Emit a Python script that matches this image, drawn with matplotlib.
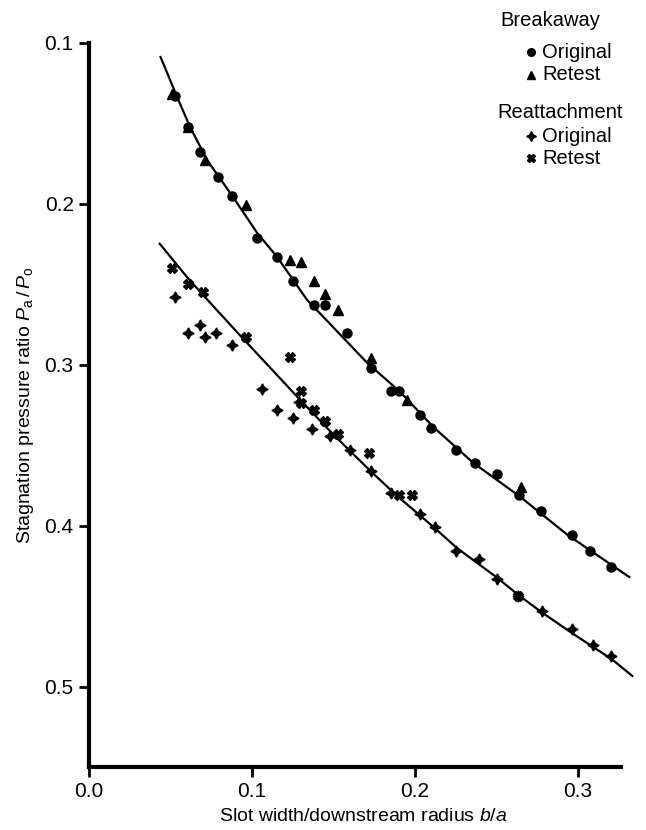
import numpy as np
import matplotlib
matplotlib.use("Agg")
import matplotlib.pyplot as plt

plt.rcParams['font.family'] = ['Liberation Sans', 'DejaVu Sans']
plt.rcParams['mathtext.fontset'] = 'custom'
plt.rcParams['mathtext.rm'] = 'Liberation Sans'
plt.rcParams['mathtext.it'] = 'Liberation Sans:italic'

# breakaway, original test (circles)
ba_orig_x = [0.053, 0.061, 0.068, 0.079, 0.088, 0.103, 0.115, 0.125, 0.138, 0.145,
             0.158, 0.173, 0.185, 0.190, 0.203, 0.210, 0.225, 0.237, 0.250, 0.264,
             0.277, 0.296, 0.307, 0.320]
ba_orig_y = [0.133, 0.152, 0.168, 0.183, 0.195, 0.221, 0.233, 0.248, 0.263, 0.263,
             0.280, 0.302, 0.316, 0.316, 0.331, 0.339, 0.353, 0.361, 0.368, 0.381,
             0.391, 0.406, 0.416, 0.426]
# breakaway, retest (triangles)
ba_re_x = [0.051, 0.061, 0.071, 0.096, 0.123, 0.130, 0.138, 0.145, 0.153, 0.173,
           0.195, 0.265]
ba_re_y = [0.132, 0.152, 0.173, 0.201, 0.235, 0.236, 0.248, 0.256, 0.266, 0.296,
           0.322, 0.376]
# reattachment, original test
ra_orig_x = [0.053, 0.061, 0.068, 0.071, 0.078, 0.088, 0.106, 0.115, 0.125, 0.129,
             0.137, 0.148, 0.160, 0.173, 0.185, 0.203, 0.212, 0.225, 0.239, 0.250,
             0.263, 0.278, 0.296, 0.309, 0.320]
ra_orig_y = [0.258, 0.280, 0.275, 0.283, 0.280, 0.288, 0.315, 0.328, 0.333, 0.323,
             0.340, 0.344, 0.353, 0.366, 0.380, 0.393, 0.401, 0.416, 0.421, 0.433,
             0.444, 0.453, 0.464, 0.474, 0.481]
# reattachment, retest
ra_re_x = [0.051, 0.061, 0.070, 0.096, 0.123, 0.130, 0.130, 0.138, 0.145, 0.153,
           0.172, 0.190, 0.198, 0.263]
ra_re_y = [0.240, 0.250, 0.255, 0.283, 0.295, 0.316, 0.324, 0.328, 0.335, 0.343,
           0.355, 0.381, 0.381, 0.444]

# fitted curves
upper_fit_x = [0.0436, 0.0490, 0.0540, 0.0620, 0.0724, 0.0883, 0.1031, 0.1153, 0.1337,
               0.1706, 0.1908, 0.2110, 0.2356, 0.2644, 0.2933, 0.3319]
upper_fit_y = [0.1081, 0.1212, 0.1335, 0.1522, 0.1727, 0.1957, 0.2180, 0.2329, 0.2596,
               0.2988, 0.3168, 0.3385, 0.3609, 0.3820, 0.4056, 0.4323]
lower_fit_x = [0.0429, 0.0601, 0.0699, 0.0945, 0.1294, 0.1497, 0.1724, 0.1890,
               0.2110, 0.2258, 0.2503, 0.2632, 0.2779, 0.2951, 0.3086, 0.3209, 0.3337]
lower_fit_y = [0.2242, 0.2455, 0.2566, 0.2838, 0.3217, 0.3432, 0.3658, 0.3815,
               0.4006, 0.4140, 0.4323, 0.4430, 0.4540, 0.4660, 0.4750, 0.4832, 0.4938]

xticks = [0.0, 0.1, 0.2, 0.3]
yticks = [0.1, 0.2, 0.3, 0.4, 0.5]

fig = plt.figure(figsize=(6.46, 8.30), dpi=100)
ax = fig.add_axes([0.1378, 0.0759, 0.848, 0.8723])

star4 = (4, 1, 0)
ax.plot(upper_fit_x, upper_fit_y, color='black', lw=1.6, solid_capstyle='butt')
ax.plot(lower_fit_x, lower_fit_y, color='black', lw=1.6, solid_capstyle='butt')
ax.plot(ba_orig_x, ba_orig_y, 'o', color='black', ms=6.5, ls='none')
ax.plot(ba_re_x, ba_re_y, '^', color='black', ms=7, ls='none')
ax.plot(ra_orig_x, ra_orig_y, marker=star4, color='black', ms=8, ls='none')
ax.plot(ra_re_x, ra_re_y, 'X', color='black', ms=6.5, ls='none')

ax.set_xlim(0, 0.336)
ax.set_ylim(0.55, 0.1)
ax.set_xticks(xticks)
ax.set_xticklabels(['%.1f' % v for v in xticks])
ax.set_yticks(yticks)
ax.set_yticklabels(['%.1f' % v for v in yticks])
ax.spines['top'].set_visible(False)
ax.spines['right'].set_visible(False)
ax.spines['left'].set_linewidth(3)
ax.spines['bottom'].set_linewidth(3)
ax.spines['bottom'].set_bounds(0, 0.326)
ax.tick_params(axis='both', direction='out', length=7, width=2, labelsize=15,
               pad=4)

ax.set_xlabel(r'Slot width/downstream radius $b/a$', fontsize=14, labelpad=5)
ax.set_ylabel(r'Stagnation pressure ratio $P_{\rm a}\,/\,P_{\rm o}$', fontsize=14,
              labelpad=6)

# legend drawn by hand in figure pixels
W, H = 646.0, 830.0
def fx(px):
    return px / W
def fy(py):
    return 1 - py / H

fig.text(fx(500), fy(20), 'Breakaway', fontsize=14.5, va='center', ha='left')
fig.text(fx(497), fy(113), 'Reattachment', fontsize=14.5, va='center', ha='left')
entries = [('o', 5.5, 52, 'Original'), ('^', 6, 75, 'Retest'),
           (star4, 7, 136, 'Original'), ('X', 5.5, 158, 'Retest')]
for mk, ms, py, lab in entries:
    ax.plot([fx(531)], [fy(py)], marker=mk, ms=ms, color='black', ls='none',
            transform=fig.transFigure, clip_on=False)
    fig.text(fx(542), fy(py), lab, fontsize=14.5, va='center', ha='left')

fig.savefig('out.png', dpi=100)
